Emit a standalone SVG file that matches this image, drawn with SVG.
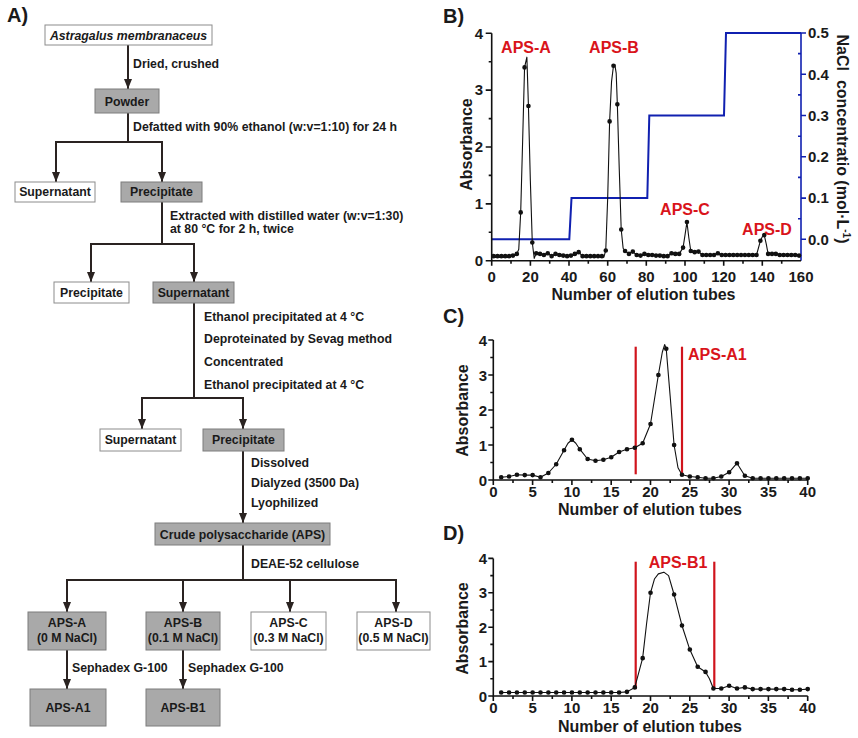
<svg xmlns="http://www.w3.org/2000/svg" width="858" height="738" viewBox="0 0 858 738">
<style>
text{font-family:"Liberation Sans",Arial,sans-serif;font-weight:bold;fill:#1a1a1a}
.f{font-size:12.3px}
.c{text-anchor:middle}
.e{text-anchor:end}
.pl{font-size:20px}
.tk{font-size:15px}
.ti{font-size:16px}
.red{fill:#d9141b;font-size:16px}
.bg{fill:#a9a9a9;stroke:#7d7d7d;stroke-width:1}
.bw{fill:#fff;stroke:#8c8c8c;stroke-width:1}
.cn{stroke:#2a2321;stroke-width:2;fill:none}
.ar{marker-end:url(#ah)}
.ax{stroke:#111;stroke-width:1.6;fill:none}
.bax{stroke:#1020b0;stroke-width:1.6;fill:none}
.curve{stroke:#111;stroke-width:1.1;fill:none;vector-effect:non-scaling-stroke;stroke-linejoin:round}
.dots{stroke:#111;stroke-width:4.6;stroke-linecap:round;fill:none;vector-effect:non-scaling-stroke}
.rl{stroke:#d0141c;stroke-width:2.2}
</style>
<defs>
<marker id="ah" markerUnits="userSpaceOnUse" markerWidth="10" markerHeight="8" refX="10" refY="4" orient="auto" viewBox="0 0 10 8"><path d="M0,0 L10,4 L0,8 z" fill="#2a2321"/></marker>
</defs>
<rect width="858" height="738" fill="#fff"/>

<!-- Panel A flowchart -->
<text class="pl" x="7" y="22">A)</text>

<g id="connectors">
<path class="cn ar" d="M128,45 V89"/>
<path class="cn" d="M128,113 V142"/>
<path class="cn ar" d="M128,142 H56 V182"/>
<path class="cn ar" d="M128,142 H162 V182"/>
<path class="cn" d="M162,202 V244"/>
<path class="cn ar" d="M162,244 H91 V282"/>
<path class="cn ar" d="M162,244 H194 V282"/>
<path class="cn" d="M194,303 V398"/>
<path class="cn ar" d="M194,398 H142 V429"/>
<path class="cn ar" d="M194,398 H243 V429"/>
<path class="cn ar" d="M243,451 V523"/>
<path class="cn" d="M243,545 V580"/>
<path class="cn ar" d="M243,580 H67 V612"/>
<path class="cn ar" d="M243,580 H183 V612"/>
<path class="cn ar" d="M243,580 H290 V612"/>
<path class="cn ar" d="M243,580 H396 V612"/>
<path class="cn ar" d="M67,650 V689"/>
<path class="cn ar" d="M183,650 V689"/>
<text class="f" x="133" y="68">Dried, crushed</text>
<text class="f" x="133" y="131">Defatted with 90% ethanol (w:v=1:10) for 24 h</text>
<text class="f" x="170" y="220">Extracted with distilled water (w:v=1:30)</text>
<text class="f" x="170" y="233">at 80 °C for 2 h, twice</text>
<text class="f" x="204" y="321">Ethanol precipitated at 4 °C</text>
<text class="f" x="204" y="343">Deproteinated by Sevag method</text>
<text class="f" x="204" y="366">Concentrated</text>
<text class="f" x="204" y="389">Ethanol precipitated at 4 °C</text>
<text class="f" x="251" y="466.5">Dissolved</text>
<text class="f" x="251" y="486.5">Dialyzed (3500 Da)</text>
<text class="f" x="251" y="506.5">Lyophilized</text>
<text class="f" x="251" y="567.5">DEAE-52 cellulose</text>
<text class="f" x="72" y="671.5">Sephadex G-100</text>
<text class="f" x="188" y="671.5">Sephadex G-100</text>
</g>

<g id="astragalus"><rect class="bw" x="45" y="25" width="167" height="20"/><text class="f c" x="128.5" y="39.5" font-style="italic">Astragalus membranaceus</text></g>
<g id="powder"><rect class="bg" x="95" y="89" width="64" height="24"/><text class="f c" x="127" y="105.5">Powder</text></g>
<g id="supernatant1"><rect class="bw" x="15" y="182" width="80" height="20"/><text class="f c" x="55" y="196">Supernatant</text></g>
<g id="precipitate1"><rect class="bg" x="121" y="182" width="81" height="20"/><text class="f c" x="161.5" y="196">Precipitate</text></g>
<g id="precipitate2"><rect class="bw" x="54" y="282" width="75" height="21"/><text class="f c" x="91.5" y="296.5">Precipitate</text></g>
<g id="supernatant2"><rect class="bg" x="153" y="282" width="81" height="21"/><text class="f c" x="193.5" y="296.5">Supernatant</text></g>
<g id="supernatant3"><rect class="bw" x="100" y="429" width="81" height="22"/><text class="f c" x="140.5" y="444">Supernatant</text></g>
<g id="precipitate3"><rect class="bg" x="203" y="429" width="81" height="22"/><text class="f c" x="243.5" y="444">Precipitate</text></g>
<g id="crude"><rect class="bg" x="155" y="523" width="175" height="22"/><text class="f c" x="242.5" y="539">Crude polysaccharide (APS)</text></g>
<g id="apsA"><rect class="bg" x="28" y="612" width="78" height="38"/><text class="f c" x="67" y="626.5">APS-A</text><text class="f c" x="67" y="641.5">(0 M NaCl)</text></g>
<g id="apsB"><rect class="bg" x="146" y="612" width="74" height="38"/><text class="f c" x="183" y="626.5">APS-B</text><text class="f c" x="183" y="641.5">(0.1 M NaCl)</text></g>
<g id="apsC"><rect class="bw" x="251" y="612" width="75" height="38"/><text class="f c" x="288.5" y="626.5">APS-C</text><text class="f c" x="288.5" y="641.5">(0.3 M NaCl)</text></g>
<g id="apsD"><rect class="bw" x="357" y="612" width="73" height="38"/><text class="f c" x="393.5" y="626.5">APS-D</text><text class="f c" x="393.5" y="641.5">(0.5 M NaCl)</text></g>
<g id="apsA1"><rect class="bg" x="30" y="689" width="76" height="37"/><text class="f c" x="68" y="711.5">APS-A1</text></g>
<g id="apsB1"><rect class="bg" x="146" y="689" width="74" height="37"/><text class="f c" x="183" y="711.5">APS-B1</text></g>

<!-- Panel B -->
<g id="chartB">
<text class="pl" x="443" y="23">B)</text>
<path class="bax" d="M801,33 V260.7"/>
<path class="bax" d="M801,33h5M801,74.3h5M801,115.5h5M801,156.8h5M801,198.1h5M801,239.3h5M801,53.6h-3M801,94.9h-3M801,136.2h-3M801,177.4h-3M801,218.7h-3"/>
<path d="M491.7,239.3 H569.3 L571.5,198.1 H647.3 L649.3,115.5 H724 L726,33 H801" stroke="#1020b0" stroke-width="2" fill="none"/>
<path class="ax" d="M491.7,33.3 V260.7 H801"/>
<path class="ax" d="M491.7,260.7h-6M491.7,203.85h-6M491.7,147h-6M491.7,90.15h-6M491.7,33.3h-6M491.7,232.3h-3M491.7,175.4h-3M491.7,118.6h-3M491.7,61.7h-3"/>
<path class="ax" d="M491.7,260.7v5M530.4,260.7v5M569,260.7v5M607.7,260.7v5M646.3,260.7v5M685,260.7v5M723.7,260.7v5M762.3,260.7v5M511,260.7v3M549.7,260.7v3M588.3,260.7v3M627,260.7v3M665.7,260.7v3M704.3,260.7v3M743,260.7v3M781.7,260.7v3"/>
<g transform="translate(491.7 260.7) scale(1.933 -56.85)">
<polyline class="curve" points="1,0.08 3,0.08 5,0.08 7,0.08 9,0.08 11,0.09 13,0.12 14,0.2 15,0.85 16,2.1 17,3.4 18.2,3.58 19,2.72 20,1.4 21,0.32 22,0.04 23,0.13 25,0.12 27,0.1 29,0.13 31,0.08 33,0.12 35,0.1 37,0.09 39,0.08 41,0.09 43,0.12 45,0.15 47,0.08 49,0.08 51,0.08 53,0.08 55,0.08 57,0.08 58,0.06 59,0.18 60,1.1 61,2.45 62,3.15 63,3.43 63.7,3.45 64.4,3.3 65,2.75 66,1.6 67,0.55 68,0.22 69,0.17 71,0.12 73,0.16 75,0.1 77,0.09 79,0.12 81,0.1 83,0.1 85,0.09 87,0.09 89,0.08 91,0.08 93,0.13 95,0.12 97,0.12 99,0.23 100,0.45 101,0.68 102,0.4 103,0.17 105,0.15 107,0.16 109,0.1 111,0.1 113,0.1 115,0.1 117,0.13 119,0.1 121,0.1 123,0.1 125,0.1 127,0.1 129,0.1 131,0.1 133,0.1 135,0.1 137,0.1 139,0.35 140,0.42 141,0.45 142,0.3 143,0.12 145,0.12 147,0.12 149,0.1 151,0.1 153,0.1 155,0.1 157,0.1 159,0.09"/>
<path class="dots" d="M1,0.08h0.01M3,0.08h0.01M5,0.08h0.01M7,0.08h0.01M9,0.08h0.01M11,0.09h0.01M13,0.12h0.01M15,0.85h0.01M17,3.4h0.01M19,2.72h0.01M21,0.32h0.01M23,0.13h0.01M25,0.12h0.01M27,0.1h0.01M29,0.13h0.01M31,0.08h0.01M33,0.12h0.01M35,0.1h0.01M37,0.09h0.01M39,0.08h0.01M41,0.09h0.01M43,0.12h0.01M45,0.15h0.01M47,0.08h0.01M49,0.08h0.01M51,0.08h0.01M53,0.08h0.01M55,0.08h0.01M57,0.08h0.01M59,0.18h0.01M61,2.45h0.01M63,3.43h0.01M65,2.75h0.01M67,0.55h0.01M69,0.17h0.01M71,0.12h0.01M73,0.16h0.01M75,0.1h0.01M77,0.09h0.01M79,0.12h0.01M81,0.1h0.01M83,0.1h0.01M85,0.09h0.01M87,0.09h0.01M89,0.08h0.01M91,0.08h0.01M93,0.13h0.01M95,0.12h0.01M97,0.12h0.01M99,0.23h0.01M101,0.68h0.01M103,0.17h0.01M105,0.15h0.01M107,0.16h0.01M109,0.1h0.01M111,0.1h0.01M113,0.1h0.01M115,0.1h0.01M117,0.13h0.01M119,0.1h0.01M121,0.1h0.01M123,0.1h0.01M125,0.1h0.01M127,0.1h0.01M129,0.1h0.01M131,0.1h0.01M133,0.1h0.01M135,0.1h0.01M137,0.1h0.01M139,0.35h0.01M141,0.45h0.01M143,0.12h0.01M145,0.12h0.01M147,0.12h0.01M149,0.1h0.01M151,0.1h0.01M153,0.1h0.01M155,0.1h0.01M157,0.1h0.01M159,0.09h0.01"/>
</g>
<g class="tk">
<text class="e" x="483" y="266">0</text><text class="e" x="483" y="209">1</text><text class="e" x="483" y="152">2</text><text class="e" x="483" y="95">3</text><text class="e" x="483" y="38.5">4</text>
<text class="c" x="491.7" y="282">0</text><text class="c" x="530.4" y="282">20</text><text class="c" x="569" y="282">40</text><text class="c" x="607.7" y="282">60</text><text class="c" x="646.3" y="282">80</text><text class="c" x="685" y="282">100</text><text class="c" x="723.7" y="282">120</text><text class="c" x="762.3" y="282">140</text><text class="c" x="801" y="282">160</text>
<text x="808" y="244.5">0.0</text><text x="808" y="203.3">0.1</text><text x="808" y="162">0.2</text><text x="808" y="120.7">0.3</text><text x="808" y="79.5">0.4</text><text x="808" y="38.2">0.5</text>
</g>
<text class="ti c" transform="translate(472 144.5) rotate(-90)">Absorbance</text>
<text class="ti c" x="643.5" y="300">Number of elution tubes</text>
<text class="ti c" transform="translate(837 139) rotate(90)">NaCl&#160; concentratio (mol·L<tspan font-size="10" dy="-6">-1</tspan><tspan dy="6">)</tspan></text>
<text class="red c" x="526" y="53">APS-A</text>
<text class="red c" x="614" y="53">APS-B</text>
<text class="red c" x="685" y="215">APS-C</text>
<text class="red c" x="767" y="235">APS-D</text>
</g>

<!-- Panel C -->
<g id="chartC">
<text class="pl" x="443" y="323">C)</text>
<path class="ax" d="M493.3,340 V480 H807.7"/>
<path class="ax" d="M493.3,480h-5M493.3,445h-5M493.3,410h-5M493.3,375h-5M493.3,340h-5M493.3,462.5h-3M493.3,427.5h-3M493.3,392.5h-3M493.3,357.5h-3"/>
<path class="ax" d="M493.3,480v5M532.6,480v5M571.9,480v5M611.2,480v5M650.5,480v5M689.8,480v5M729.1,480v5M768.4,480v5M807.7,480v5M513,480v3M552.3,480v3M591.6,480v3M630.9,480v3M670.2,480v3M709.5,480v3M748.8,480v3M788.1,480v3"/>
<line class="rl" x1="635.7" y1="346.7" x2="635.7" y2="474.3"/>
<line class="rl" x1="682" y1="346.7" x2="682" y2="474.3"/>
<g transform="translate(493.3 480) scale(7.86 -35)">
<polyline class="curve" points="1,0.08 2,0.1 3,0.15 4,0.14 5,0.14 6,0.08 7,0.2 8,0.45 9,0.85 9.5,1.05 10,1.15 10.5,1.05 11,0.88 12,0.6 13,0.55 14,0.58 15,0.65 16,0.8 17,0.88 18,0.92 19,1.05 20,1.6 20.5,2.3 21,3.0 21.5,3.65 21.8,3.87 22,3.75 22.5,2.4 23,1.0 23.5,0.35 24,0.15 25,0.1 26,0.08 27,0.05 28,0.05 29,0.1 30,0.22 31,0.48 32,0.12 33,0.05 34,0.05 35,0.05 36,0.05 37,0.05 38,0.05 39,0.05 40,0.05"/>
<path class="dots" d="M1,0.08h0.01M2,0.1h0.01M3,0.15h0.01M4,0.14h0.01M5,0.14h0.01M6,0.08h0.01M7,0.2h0.01M8,0.45h0.01M9,0.85h0.01M10,1.15h0.01M11,0.88h0.01M12,0.6h0.01M13,0.55h0.01M14,0.58h0.01M15,0.65h0.01M16,0.8h0.01M17,0.88h0.01M18,0.92h0.01M19,1.05h0.01M20,1.6h0.01M21,3.0h0.01M22,3.75h0.01M23,1.0h0.01M24,0.15h0.01M25,0.1h0.01M26,0.08h0.01M27,0.05h0.01M28,0.05h0.01M29,0.1h0.01M30,0.22h0.01M31,0.48h0.01M32,0.12h0.01M33,0.05h0.01M34,0.05h0.01M35,0.05h0.01M36,0.05h0.01M37,0.05h0.01M38,0.05h0.01M39,0.05h0.01M40,0.05h0.01"/>
</g>
<g class="tk">
<text class="e" x="487" y="485.5">0</text><text class="e" x="487" y="450.5">1</text><text class="e" x="487" y="415.5">2</text><text class="e" x="487" y="380.5">3</text><text class="e" x="487" y="345.5">4</text>
<text class="c" x="493.3" y="497">0</text><text class="c" x="532.6" y="497">5</text><text class="c" x="571.9" y="497">10</text><text class="c" x="611.2" y="497">15</text><text class="c" x="650.5" y="497">20</text><text class="c" x="689.8" y="497">25</text><text class="c" x="729.1" y="497">30</text><text class="c" x="768.4" y="497">35</text><text class="c" x="807.7" y="497">40</text>
</g>
<text class="ti c" transform="translate(468 410.5) rotate(-90)">Absorbance</text>
<text class="ti c" x="650" y="515">Number of elution tubes</text>
<text class="red" x="688" y="360">APS-A1</text>
</g>

<!-- Panel D -->
<g id="chartD">
<text class="pl" x="443" y="540">D)</text>
<path class="ax" d="M493.3,558.4 V696 H807.7"/>
<path class="ax" d="M493.3,696h-5M493.3,661.6h-5M493.3,627.2h-5M493.3,592.8h-5M493.3,558.4h-5M493.3,678.8h-3M493.3,644.4h-3M493.3,610h-3M493.3,575.6h-3"/>
<path class="ax" d="M493.3,696v5M532.6,696v5M571.9,696v5M611.2,696v5M650.5,696v5M689.8,696v5M729.1,696v5M768.4,696v5M807.7,696v5M513,696v3M552.3,696v3M591.6,696v3M630.9,696v3M670.2,696v3M709.5,696v3M748.8,696v3M788.1,696v3"/>
<line class="rl" x1="635.7" y1="561.7" x2="635.7" y2="689"/>
<line class="rl" x1="714.3" y1="561.7" x2="714.3" y2="689"/>
<g transform="translate(493.3 696) scale(7.86 -34.4)">
<polyline class="curve" points="1,0.1 2,0.1 3,0.1 4,0.1 5,0.1 6,0.1 7,0.1 8,0.1 9,0.1 10,0.1 11,0.1 12,0.1 13,0.1 14,0.1 15,0.1 16,0.1 17,0.12 18,0.25 19,1.1 19.5,2.1 20,3.0 20.5,3.4 21,3.55 21.7,3.6 22.3,3.5 23,2.95 24,2.05 25,1.35 26,0.85 27,0.7 27.5,0.5 28,0.22 29,0.22 30,0.3 31,0.22 32,0.25 33,0.2 34,0.2 35,0.2 36,0.2 37,0.2 38,0.18 39,0.18 40,0.2"/>
<path class="dots" d="M1,0.1h0.01M2,0.1h0.01M3,0.1h0.01M4,0.1h0.01M5,0.1h0.01M6,0.1h0.01M7,0.1h0.01M8,0.1h0.01M9,0.1h0.01M10,0.1h0.01M11,0.1h0.01M12,0.1h0.01M13,0.1h0.01M14,0.1h0.01M15,0.1h0.01M16,0.1h0.01M17,0.12h0.01M18,0.25h0.01M19,1.1h0.01M20,3.0h0.01M23,2.95h0.01M24,2.05h0.01M25,1.35h0.01M26,0.85h0.01M27,0.7h0.01M28,0.22h0.01M29,0.22h0.01M30,0.3h0.01M31,0.22h0.01M32,0.25h0.01M33,0.2h0.01M34,0.2h0.01M35,0.2h0.01M36,0.2h0.01M37,0.2h0.01M38,0.18h0.01M39,0.18h0.01M40,0.2h0.01"/>
</g>
<g class="tk">
<text class="e" x="487" y="701.5">0</text><text class="e" x="487" y="667">1</text><text class="e" x="487" y="632.7">2</text><text class="e" x="487" y="598.3">3</text><text class="e" x="487" y="564">4</text>
<text class="c" x="493.3" y="713">0</text><text class="c" x="532.6" y="713">5</text><text class="c" x="571.9" y="713">10</text><text class="c" x="611.2" y="713">15</text><text class="c" x="650.5" y="713">20</text><text class="c" x="689.8" y="713">25</text><text class="c" x="729.1" y="713">30</text><text class="c" x="768.4" y="713">35</text><text class="c" x="807.7" y="713">40</text>
</g>
<text class="ti c" transform="translate(468 628.5) rotate(-90)">Absorbance</text>
<text class="ti c" x="650" y="731.5">Number of elution tubes</text>
<text class="red c" x="678" y="568">APS-B1</text>
</g>
</svg>
